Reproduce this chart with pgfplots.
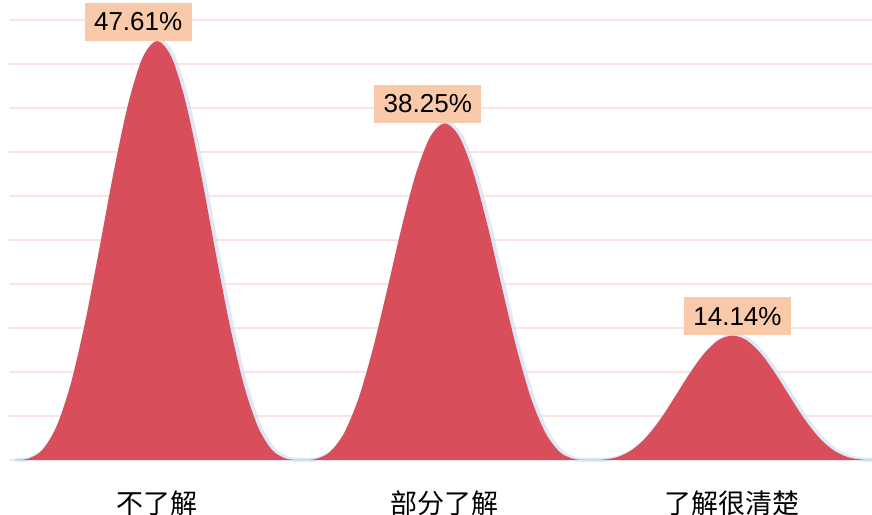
\documentclass[border=0pt]{standalone}
\usepackage{pgfplots}
\usepackage{pgfplotstable}
\pgfplotsset{compat=1.18}
\usepackage{fontspec}
\setmainfont{Liberation Sans}
\newfontfamily\cjk{Noto Sans CJK SC}
\definecolor{peak}{RGB}{217,78,91}
\definecolor{glow}{RGB}{214,226,244}
\definecolor{tagbg}{RGB}{248,202,169}
\definecolor{gridpink}{RGB}{250,226,230}

% outline of each mountain
\pgfplotstableread{
x y
-0.5 0
-0.45 0.13
-0.4 1.11
-0.35 3.80
-0.3 8.69
-0.25 15.71
-0.2 24.16
-0.15 32.91
-0.1 40.55
-0.05 45.76
0 47.61
0.05 45.76
0.1 40.55
0.15 32.91
0.2 24.16
0.25 15.71
0.3 8.69
0.35 3.80
0.4 1.11
0.45 0.13
0.5 0
}\peakA
\pgfplotstableread{
x y
0.5 0
0.55 0.10
0.6 0.89
0.65 3.06
0.7 6.98
0.75 12.62
0.8 19.41
0.85 26.44
0.9 32.58
0.95 36.76
1 38.25
1.05 36.76
1.1 32.58
1.15 26.44
1.2 19.41
1.25 12.62
1.3 6.98
1.35 3.06
1.4 0.89
1.45 0.10
1.5 0
}\peakB
\pgfplotstableread{
x y
1.5 0
1.55 0.04
1.6 0.33
1.65 1.13
1.7 2.58
1.75 4.66
1.8 7.18
1.85 9.77
1.9 12.04
1.95 13.59
2 14.14
2.05 13.59
2.1 12.04
2.15 9.77
2.2 7.18
2.25 4.66
2.3 2.58
2.35 1.13
2.4 0.33
2.45 0.04
2.5 0
}\peakC

\begin{document}
\begin{tikzpicture}
\begin{axis}[
    name=ax,
    scale only axis,
    width=431.5pt,
    height=220pt,
    xmin=-0.515, xmax=2.485,
    ymin=0, ymax=50,
    axis line style={draw=none},
    ytick={0,5,...,50},
    yticklabels={},
    ymajorgrids,
    grid style={gridpink, line width=0.8pt},
    xtick={0,1,2},
    xticklabels={不了解, 部分了解, 了解很清楚},
    xticklabel style={font=\cjk\fontsize{13.5}{15}\selectfont, yshift=-12pt},
    major tick length=0pt,
    clip=false,
    glowline/.style={draw=glow, line width=2pt, smooth, xshift=1pt, opacity=0.8},
    mountain/.style={fill=peak, draw=none, smooth},
]
\addplot[glowline] table {\peakA};
\addplot[glowline] table {\peakB};
\addplot[glowline] table {\peakC};
\addplot[mountain] table {\peakA} \closedcycle;
\addplot[mountain] table {\peakB} \closedcycle;
\addplot[mountain] table {\peakC} \closedcycle;
\begin{scope}[every node/.style={fill=tagbg, anchor=south, inner sep=0pt,
    minimum width=53.5pt, minimum height=19pt, font=\fontsize{13}{15}\selectfont}]
\node[xshift=-9.5pt] at (axis cs:0,47.61) {47.61\%};
\node[xshift=-8.5pt] at (axis cs:1,38.25) {38.25\%};
\node[xshift=2.5pt] at (axis cs:2,14.14) {14.14\%};
\end{scope}
\end{axis}
\pgfresetboundingbox
\path ([xshift=-4.5pt,yshift=-27.5pt]ax.south west) rectangle ([yshift=10pt]ax.north east);
\end{tikzpicture}
\end{document}
